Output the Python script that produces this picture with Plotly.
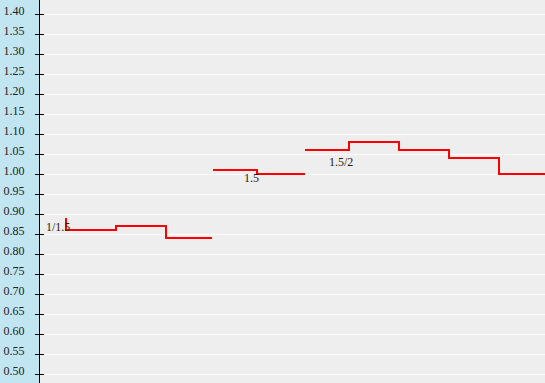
import plotly.graph_objects as go

# y axis ticks
tick_vals = [0.50, 0.55, 0.60, 0.65, 0.70, 0.75, 0.80, 0.85, 0.90, 0.95, 1.00,
             1.05, 1.10, 1.15, 1.20, 1.25, 1.30, 1.35, 1.40]
tick_text = ["%.2f" % v for v in tick_vals]

# step series (x in arbitrary position units)
g1_x = [26, 26, 76, 126, 172]
g1_y = [0.89, 0.86, 0.87, 0.84, 0.84]
g2_x = [173, 217, 265]
g2_y = [1.01, 1.00, 1.00]
g3_x = [265, 309, 359, 409, 459, 506]
g3_y = [1.06, 1.08, 1.06, 1.04, 1.00, 1.00]

labels = ["1/1.5", "1.5", "1.5/2"]
label_x = [32, 221, 315]
label_y = [0.8675, 0.99, 1.03]

red = "#ff0000"
fig = go.Figure()
for xs, ys in [(g1_x, g1_y), (g2_x, g2_y), (g3_x, g3_y)]:
    fig.add_trace(go.Scatter(x=xs, y=ys, mode="lines", line=dict(color=red, width=2, shape="hv"),
                             showlegend=False, hoverinfo="skip"))
# dummy trace for inside-tick overlay axis
fig.add_trace(go.Scatter(x=[None], y=[None], yaxis="y2", showlegend=False))

for t, x, y in zip(labels, label_x, label_y):
    fig.add_annotation(x=x, y=y, text=t, showarrow=False, xanchor="right", yanchor="middle",
                       font=dict(family="Liberation Serif", size=12, color="#222"))

yr = [0.4775, 1.435]
fig.update_layout(
    width=545, height=383,
    margin=dict(l=40, r=0, t=0, b=0),
    paper_bgcolor="#c1e6f2",
    plot_bgcolor="#eeeeee",
    xaxis=dict(range=[0, 505], visible=False, showgrid=False, zeroline=False),
    yaxis=dict(range=yr, tickvals=tick_vals, ticktext=tick_text, ticks="outside", ticklen=4,
               tickcolor="#000", tickwidth=1, showline=True, linecolor="#000", linewidth=1,
               gridcolor="#ffffff", gridwidth=1, zeroline=False, ticklabelstandoff=8,
               ticklabelshift=-3,
               tickfont=dict(family="Liberation Serif", size=12, color="#222")),
    yaxis2=dict(range=yr, overlaying="y", side="left", tickvals=tick_vals, ticks="inside",
                ticklen=4, tickcolor="#000", tickwidth=1, showticklabels=False,
                showgrid=False, zeroline=False, showline=False),
)
fig.write_html("out.html")
